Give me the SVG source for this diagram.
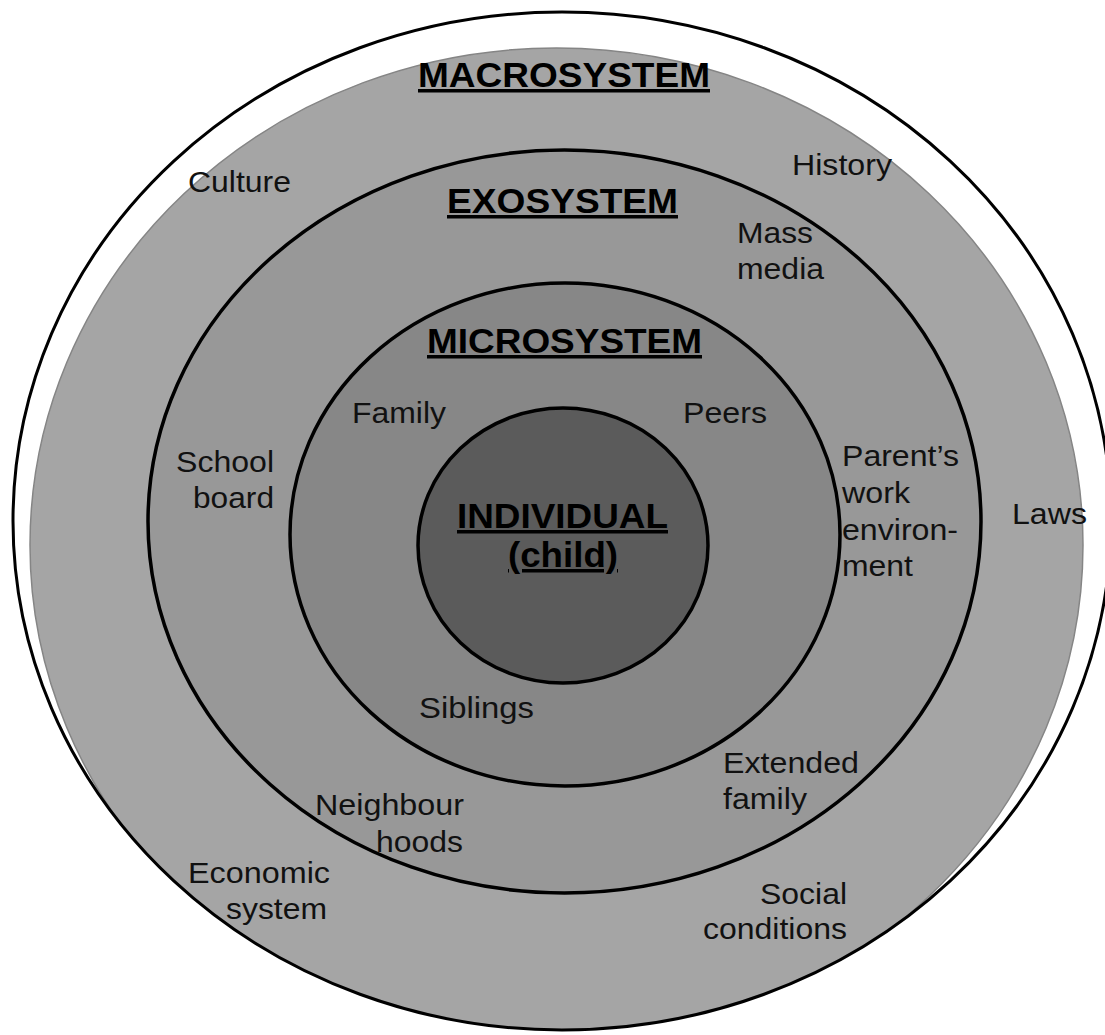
<svg xmlns="http://www.w3.org/2000/svg" width="1105" height="1035" viewBox="0 0 1105 1035">
<style>
.lbl{font-family:"Liberation Sans",Arial,sans-serif;font-size:29px;fill:#111}
.hd{font-family:"Liberation Sans",Arial,sans-serif;font-size:35px;font-weight:bold;fill:#000;text-decoration:underline}
.ring{stroke:#000;stroke-width:3.5}
</style>
<defs>
<clipPath id="outerClip"><ellipse cx="562" cy="521" rx="549" ry="509"/></clipPath>
</defs>
<rect width="1105" height="1035" fill="#fff"/>
<g id="macrosystem">
<ellipse cx="562" cy="521" rx="549" ry="509" fill="#fff"/>
<ellipse cx="556.5" cy="545" rx="526.5" ry="497" fill="#a5a5a5" stroke="#858585" stroke-width="1.5" clip-path="url(#outerClip)"/>
<ellipse cx="562" cy="521" rx="549" ry="509" fill="none" stroke="#000" stroke-width="3"/>
<text class="hd" x="418" y="87" textLength="292" lengthAdjust="spacingAndGlyphs">MACROSYSTEM</text>
<text class="lbl" x="188" y="192" textLength="103" lengthAdjust="spacingAndGlyphs">Culture</text>
<text class="lbl" x="792" y="175" textLength="100" lengthAdjust="spacingAndGlyphs">History</text>
<text class="lbl" x="1012" y="524" textLength="75" lengthAdjust="spacingAndGlyphs">Laws</text>
<text class="lbl" x="188" y="883" textLength="142" lengthAdjust="spacingAndGlyphs">Economic</text>
<text class="lbl" x="226" y="919" textLength="101" lengthAdjust="spacingAndGlyphs">system</text>
<text class="lbl" x="760" y="904" textLength="87" lengthAdjust="spacingAndGlyphs">Social</text>
<text class="lbl" x="703" y="939" textLength="144" lengthAdjust="spacingAndGlyphs">conditions</text>
</g>
<g id="exosystem">
<ellipse class="ring" cx="564.5" cy="521.5" rx="416.5" ry="371.5" fill="#989898"/>
<text class="hd" x="447" y="213" textLength="231" lengthAdjust="spacingAndGlyphs">EXOSYSTEM</text>
<text class="lbl" x="737" y="243" textLength="76" lengthAdjust="spacingAndGlyphs">Mass</text>
<text class="lbl" x="737" y="279" textLength="87" lengthAdjust="spacingAndGlyphs">media</text>
<text class="lbl" x="176" y="472" textLength="98" lengthAdjust="spacingAndGlyphs">School</text>
<text class="lbl" x="193" y="508" textLength="81" lengthAdjust="spacingAndGlyphs">board</text>
<text class="lbl" x="842" y="466" textLength="117" lengthAdjust="spacingAndGlyphs">Parent’s</text>
<text class="lbl" x="842" y="503" textLength="68" lengthAdjust="spacingAndGlyphs">work</text>
<text class="lbl" x="842" y="540" textLength="116" lengthAdjust="spacingAndGlyphs">environ-</text>
<text class="lbl" x="842" y="576" textLength="71" lengthAdjust="spacingAndGlyphs">ment</text>
<text class="lbl" x="723" y="773" textLength="136" lengthAdjust="spacingAndGlyphs">Extended</text>
<text class="lbl" x="723" y="809" textLength="84" lengthAdjust="spacingAndGlyphs">family</text>
<text class="lbl" x="315" y="815" textLength="149" lengthAdjust="spacingAndGlyphs">Neighbour</text>
<text class="lbl" x="376" y="852" textLength="87" lengthAdjust="spacingAndGlyphs">hoods</text>
</g>
<g id="microsystem">
<ellipse class="ring" cx="565" cy="534.5" rx="275" ry="251.5" fill="#878787"/>
<text class="hd" x="427" y="353" textLength="275" lengthAdjust="spacingAndGlyphs">MICROSYSTEM</text>
<text class="lbl" x="352" y="423" textLength="94" lengthAdjust="spacingAndGlyphs">Family</text>
<text class="lbl" x="683" y="423" textLength="84" lengthAdjust="spacingAndGlyphs">Peers</text>
<text class="lbl" x="419" y="718" textLength="115" lengthAdjust="spacingAndGlyphs">Siblings</text>
</g>
<g id="individual">
<ellipse class="ring" cx="563" cy="545.5" rx="145" ry="137.5" fill="#5b5b5b"/>
<text class="hd" x="457" y="528" textLength="211" lengthAdjust="spacingAndGlyphs">INDIVIDUAL</text>
<text class="hd" x="508" y="567" textLength="110" lengthAdjust="spacingAndGlyphs">(child)</text>
</g>
<g id="connectors"/>
</svg>
